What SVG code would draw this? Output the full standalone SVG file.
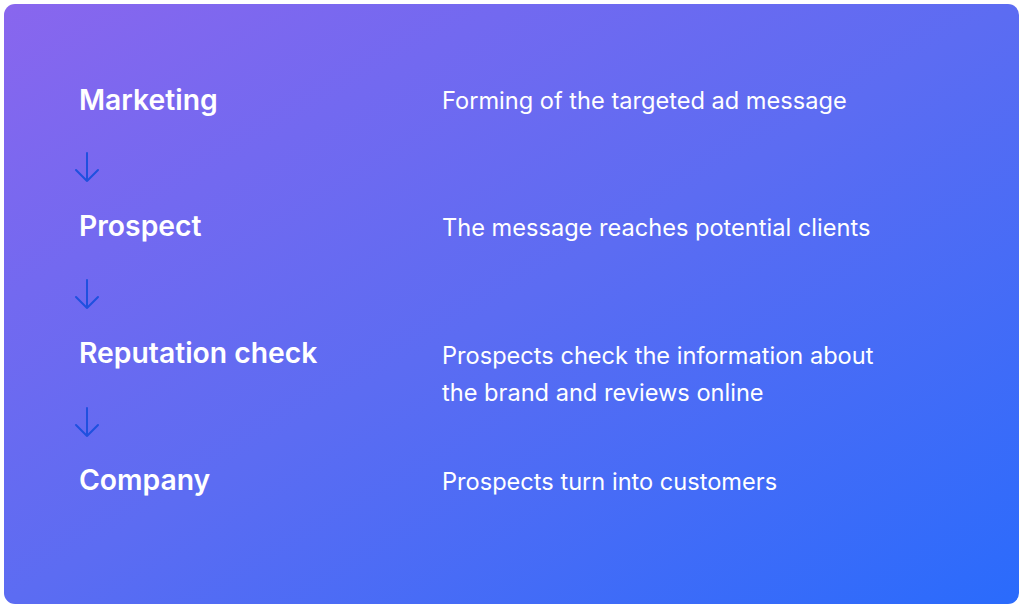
<svg xmlns="http://www.w3.org/2000/svg" width="1024" height="609" viewBox="0 0 1024 609">
<defs>
<linearGradient id="bg" x1="0" y1="0" x2="1" y2="1" gradientUnits="objectBoundingBox">
<stop offset="0" stop-color="#8966EE"/>
<stop offset="0.5" stop-color="#5C6CF2"/>
<stop offset="1" stop-color="#2A6BFC"/>
</linearGradient>
<style>
.t{font-family:Inter,"Liberation Sans",sans-serif;font-size:28.3px;font-weight:600;fill:#FFFFFF}
.d{font-family:Inter,"Liberation Sans",sans-serif;font-size:23.6px;font-weight:400;fill:#FFFFFF}
.a{fill:none;stroke:#1F50DF;stroke-width:2;stroke-linecap:round;stroke-linejoin:round}
</style>
</defs>
<rect width="1024" height="609" fill="#FFFFFF"/>
<rect x="4" y="4" width="1015" height="600" rx="11" fill="url(#bg)"/>
<g id="marketing"><text class="t" x="79" y="110">Marketing</text><text class="d" x="442" y="109">Forming of the targeted ad message</text></g>
<g id="prospect"><text class="t" x="79" y="236">Prospect</text><text class="d" x="442" y="236">The message reaches potential clients</text></g>
<g id="reputation"><text class="t" x="79" y="363">Reputation check</text><text class="d" x="442" y="364">Prospects check the information about</text><text class="d" x="442" y="401">the brand and reviews online</text></g>
<g id="company"><text class="t" x="79" y="490">Company</text><text class="d" x="442" y="490">Prospects turn into customers</text></g>
<g id="connectors">
<path class="a" d="M87 153V181M76 170L87 181L98 170"/>
<path class="a" d="M87 280V308M76 297L87 308L98 297"/>
<path class="a" d="M87 408V436M76 425L87 436L98 425"/>
</g>
</svg>
